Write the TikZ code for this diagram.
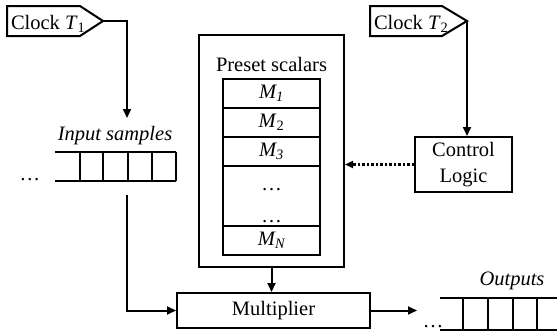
\documentclass[tikz,border=0pt]{standalone}
\usepackage{fontspec}
\setmainfont{Liberation Serif}
\usetikzlibrary{arrows.meta}
\begin{document}
\begin{tikzpicture}[x=1pt,y=-1pt,line width=2pt,
  box/.style={draw,line width=2pt,inner sep=0pt,font=\fontsize{20.5}{26}\selectfont,align=center},
  cell/.style={draw,line width=2pt,inner sep=0pt,minimum width=97pt,font=\fontsize{20.5}{24}\selectfont},
  lbl/.style={inner sep=0pt,font=\fontsize{20.5}{24}\selectfont},
  arr/.style={-{Triangle[length=9pt,width=8pt]},line width=2pt},
  darr/.style={-{Triangle[length=8pt,width=7pt]},line width=2.6pt,dash pattern=on 2.5pt off 2pt}]
\useasboundingbox (0,0) rectangle (557,332);
% clock tags
\draw[line width=2pt] (7,6) -- (80,6) -- (103,21) coordinate (c1tip) -- (80,36) -- (7,36) -- cycle;
\node[lbl,anchor=base west] (clk1) at (10,29) {Clock \textit{T}\textsubscript{1}};
\draw[line width=2pt] (370,6) -- (442,6) -- (467,21) coordinate (c2tip) -- (442,36) -- (370,36) -- cycle;
\node[lbl,anchor=base west] (clk2) at (373,29) {Clock \textit{T}\textsubscript{2}};
% input buffer
\node[lbl] (inlbl) at (115,136) {\textit{Input samples}};
\draw (55,152) coordinate (inTL) -- (176,152);
\draw (55,181) -- (176,181);
\foreach \x in {80,103,128,152,176} \draw (\x,152) -- (\x,181);
\node[lbl,anchor=base] (indots) at (30,180) {\dots};
\coordinate (inout) at (127,195);
% preset scalars
\node[box,minimum width=145pt,minimum height=232pt] (outer) at (271.5,151) {};
\node[lbl] (pslbl) at (271.5,64) {Preset scalars};
\node[cell,minimum height=29pt] (m1) at (271.5,93.5) {\textit{M\textsubscript{1}}};
\node[cell,minimum height=29pt] (m2) at (271.5,122.5) {\textit{M}\textsubscript{2}};
\node[cell,minimum height=29pt] (m3) at (271.5,151.5) {\textit{M\textsubscript{3}}};
\node[cell,minimum height=60pt] (md) at (271.5,196) {};
\node[lbl,anchor=base] (d1) at (271.5,190) {\dots};
\node[lbl,anchor=base] (d2) at (271.5,222) {\dots};
\node[cell,minimum height=29pt] (mn) at (271.5,240.5) {\textit{M\textsubscript{N}}};
% control logic
\node[box,minimum width=97pt,minimum height=55pt] (ctrl) at (463.5,164.5) {Control\\Logic};
% multiplier
\node[box,minimum width=193pt,minimum height=35pt] (mult) at (273.5,310.5) {Multiplier};
% outputs
\node[lbl] (outlbl) at (512,281) {\textit{Outputs}};
\draw (440,298) -- (557,298);
\draw (440,330) -- (557,330);
\foreach \x in {463,488,513,537} \draw (\x,298) -- (\x,330);
\node[lbl,anchor=base] (outdots) at (433,327) {\dots};
\coordinate (outin) at (417,310.5);
% connectors
\draw[arr] (c1tip) -- (127,21) -- (127,118);
\draw[arr] (c2tip) -- (c2tip |- ctrl.north);
\draw[darr] (ctrl.west) -- (outer.east |- ctrl.west);
\draw[arr] (outer.south) -- (outer.south |- mult.north);
\draw[arr] (inout) |- (mult.west);
\draw[arr] (mult.east) -- (outin);
\end{tikzpicture}
\end{document}
